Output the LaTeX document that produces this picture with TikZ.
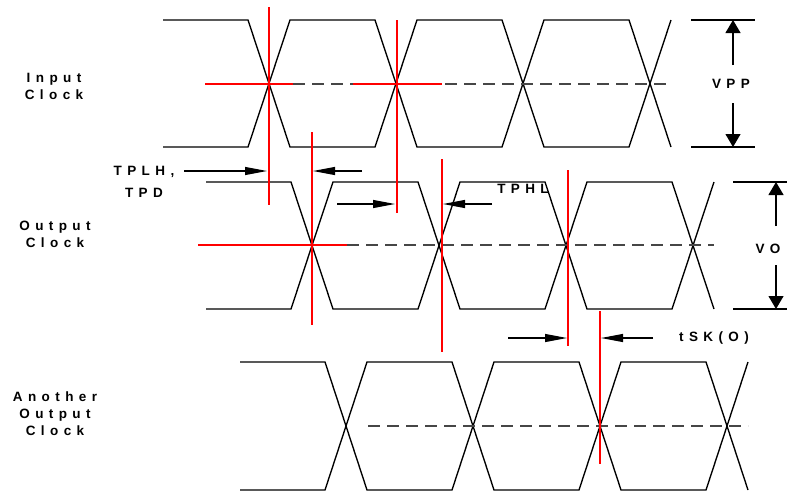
\documentclass[tikz,border=0pt]{standalone}
\usepackage{fontspec}
\usepackage{xcolor}
\usetikzlibrary{arrows.meta}
\newfontfamily\lblfamily[LetterSpace=40]{Liberation Sans}
\newcommand{\lblfont}{\lblfamily\bfseries\fontsize{13.5}{17}\selectfont}
\definecolor{markred}{RGB}{255,0,0}
\definecolor{levelgray}{RGB}{70,70,70}
% one clock trace: first crossing, start x, top y, bottom y
\newcommand{\eyeclock}[4]{%
  \draw[wave] (#2,#3) foreach \k in {0,2} {-- ({#1+127*\k-21},#3) -- ({#1+127*\k+21},#4) -- ({#1+127*\k+106},#4) -- ({#1+127*\k+148},#3)};
  \draw[wave] (#2,#4) foreach \k in {0,2} {-- ({#1+127*\k-21},#4) -- ({#1+127*\k+21},#3) -- ({#1+127*\k+106},#3) -- ({#1+127*\k+148},#4)};
}
\tikzset{
  wave/.style={line width=1.35pt, black},
  midlevel/.style={line width=1.2pt, levelgray, dash pattern=on 12pt off 7pt},
  redline/.style={line width=1.15pt, markred},
  lbl/.style={font=\lblfont, align=center, inner sep=0pt},
  dimarrow/.style={line width=1.1pt, -{Triangle[length=22pt,width=8pt]}},
  varrow/.style={line width=1.2pt, -{Triangle[length=13pt,width=15pt]}},
}
\begin{document}
\begin{tikzpicture}[x=1pt, y=-1pt]
                \useasboundingbox (0,0) rectangle (787,491);

                % the three clocks
                \eyeclock{269}{163}{20}{147}
                \eyeclock{312}{206}{182}{309}
                \eyeclock{346}{240}{362}{490}

                \draw[midlevel] (293,84) -- (671,84);
                \draw[midlevel] (347,245) -- (714,245);
                \draw[midlevel] (368,426) -- (748,426);

                % red markers
                \draw[redline] (205,84) -- (293,84);
                \draw[redline] (353,84) -- (442,84);
                \draw[redline] (198,245) -- (347,245);
                \coordinate (r1t) at (269,7);   \coordinate (r1b) at (269,205);
                \coordinate (r2t) at (312,132); \coordinate (r2b) at (312,325);
                \coordinate (r3t) at (397,20);  \coordinate (r3b) at (397,213);
                \coordinate (r4t) at (442,159); \coordinate (r4b) at (442,352);
                \coordinate (r5t) at (568,170); \coordinate (r5b) at (568,346);
                \coordinate (r6t) at (600,311); \coordinate (r6b) at (600,464);
                \draw[redline] (r1t) -- (r1b);
                \draw[redline] (r2t) -- (r2b);
                \draw[redline] (r3t) -- (r3b);
                \draw[redline] (r4t) -- (r4b);
                \draw[redline] (r5t) -- (r5b);
                \draw[redline] (r6t) -- (r6b);

                % labels
                \node[lbl] (IN) at (54,86) {Input\\Clock};
                \node[lbl] (OUT) at (55,234) {Output\\Clock};
                \node[lbl] (AOUT) at (55,414) {Another\\Output\\Clock};
                \node[lbl] (TPLH) at (144,182) {TPLH,\\[5pt]TPD};
                \node[lbl] (TPHL) at (523,189) {TPHL};
                \node[lbl] (VPP) at (731,84) {VPP};
                \node[lbl] (VO) at (768,249) {VO};
                \node[lbl] (TSK) at (714,338) {tSK(O)};

                % delay arrows
                \coordinate (a1) at (184,171); \coordinate (a1e) at (267,171);
                \coordinate (a2) at (362,171); \coordinate (a2e) at (313,171);
                \coordinate (a3) at (337,204); \coordinate (a3e) at (395,204);
                \coordinate (a4) at (492,204); \coordinate (a4e) at (443,204);
                \coordinate (a5) at (508,338); \coordinate (a5e) at (567,338);
                \coordinate (a6) at (653,338); \coordinate (a6e) at (601,338);
                \draw[dimarrow] (a1) -- (a1e);
                \draw[dimarrow] (a2) -- (a2e);
                \draw[dimarrow] (a3) -- (a3e);
                \draw[dimarrow] (a4) -- (a4e);
                \draw[dimarrow] (a5) -- (a5e);
                \draw[dimarrow] (a6) -- (a6e);

                % amplitude marks
                \draw[wave] (691,20) -- (755,20);
                \draw[wave] (691,147) -- (755,147);
                \draw[wave] (733,182) -- (787,182);
                \draw[wave] (733,309) -- (787,309);
                \coordinate (v1) at (733,65);  \coordinate (v1e) at (733,20);
                \coordinate (v2) at (733,103); \coordinate (v2e) at (733,147);
                \coordinate (v3) at (776,226); \coordinate (v3e) at (776,182);
                \coordinate (v4) at (776,265); \coordinate (v4e) at (776,309);
                \draw[varrow] (v1) -- (v1e);
                \draw[varrow] (v2) -- (v2e);
                \draw[varrow] (v3) -- (v3e);
                \draw[varrow] (v4) -- (v4e);
            \end{tikzpicture}
\end{document}
